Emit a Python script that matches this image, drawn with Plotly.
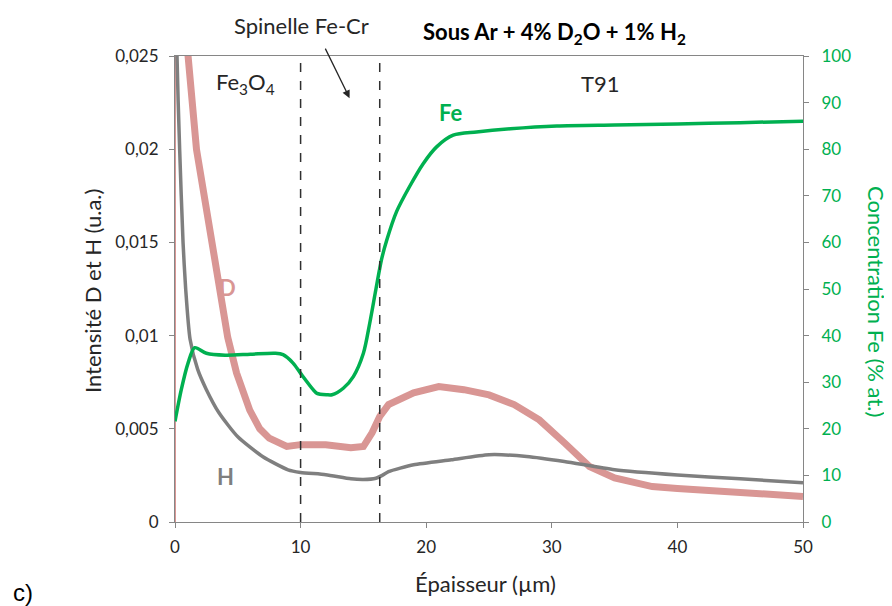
import plotly.graph_objects as go

# ---- data ----
fe_x = [0, 0.5, 1.04, 1.57, 2.5, 4, 6, 8, 8.6, 9.4, 10, 11.0, 11.3, 12.1, 12.5, 13.4, 14.2, 15.0, 15.5,
        16.0, 16.45, 16.85, 17.64, 18.7, 19.76, 20.83, 22.15, 24.0, 26.7, 30.4, 35, 40, 45, 50]
fe_y = [21.6, 28.4, 34.1, 37.4, 36.2, 35.8, 36.0, 36.2, 35.9, 34.1, 31.9, 28.4, 27.6, 27.3, 27.3, 28.7, 31.2, 36.2, 42.6,
        50.0, 56.4, 60.4, 66.6, 72.1, 76.9, 80.5, 83.0, 83.7, 84.4, 85.0, 85.2, 85.4, 85.7, 86.0]

h_x = [0.05, 0.16, 0.37, 0.64, 0.85, 1.2, 1.8, 2.5, 3.5, 5, 7, 9, 10, 12, 14, 15, 16, 16.5, 17, 19, 22, 25, 28,
       31, 35, 40, 45, 50]
h_y = [0.04, 0.025, 0.02, 0.015, 0.0125, 0.0098, 0.0082, 0.0071, 0.00586, 0.00457, 0.0035, 0.0028, 0.00266,
       0.00254, 0.00232, 0.00228, 0.00235, 0.0025, 0.0027, 0.00307, 0.00334, 0.00361, 0.00352,
       0.00325, 0.0028, 0.00252, 0.00232, 0.0021]

d_x = [0, 0, 0.6, 1.04, 1.71, 2.9, 3.5, 4.2, 4.9, 5.95, 6.75, 7.5, 8.9, 10, 12, 14, 15, 15.7, 16.3, 17, 19, 21,
       23, 25, 27, 29, 31, 33, 35, 38, 40, 45, 50]
d_y = [0, 0.04, 0.03, 0.025, 0.02, 0.015, 0.013, 0.0099, 0.008, 0.006, 0.005, 0.0045, 0.00405, 0.00415, 0.00414,
       0.00398, 0.00405, 0.0048, 0.00566, 0.0063, 0.00693, 0.00727, 0.0071, 0.00682, 0.0063, 0.00548,
       0.00425, 0.00298, 0.00237, 0.0019, 0.0018, 0.00157, 0.00137]

boundaries = [10, 16.3]
x_ticks = [0, 10, 20, 30, 40, 50]
left_ticks = [0, 0.005, 0.01, 0.015, 0.02, 0.025]
left_labels = ["0", "0,005", "0,01", "0,015", "0,02", "0,025"]
right_ticks = [0, 10, 20, 30, 40, 50, 60, 70, 80, 90, 100]

GREEN = "#00B050"
PINK = "#D99694"
GRAY = "#7F7F7F"
AXIS = "#868686"
TXT = "#262626"
FONT = "Lato"

# page body has an 8px margin: plot area placed at screen x 175..803, y 56..522
W, H = 884, 598
L, T = 167, 48
PW, PH = 628, 466


def px(x):
    return (x - 175) / PW


def py(y):
    return (522 - y) / PH


fig = go.Figure()
# D: thin jump at the surface, then the thick noisy band
fig.add_trace(go.Scatter(x=d_x[:2], y=d_y[:2], mode="lines", line=dict(color=PINK, width=2),
                         showlegend=False, hoverinfo="skip"))
fig.add_trace(go.Scatter(x=d_x[1:], y=d_y[1:], mode="lines", line=dict(color=PINK, width=7),
                         showlegend=False, hoverinfo="skip"))
fig.add_trace(go.Scatter(x=h_x, y=h_y, mode="lines",
                         line=dict(color=GRAY, width=3.5, shape="spline", smoothing=0.6),
                         showlegend=False))
fig.add_trace(go.Scatter(x=fe_x, y=fe_y, mode="lines",
                         line=dict(color=GREEN, width=3.5, shape="spline", smoothing=0.8),
                         yaxis="y2", showlegend=False))

for b in boundaries:
    fig.add_shape(type="line", xref="x", yref="paper", x0=b, x1=b, y0=0, y1=0.995,
                  line=dict(color="#303030", width=1.5, dash="dash"))

axis_common = dict(showgrid=False, zeroline=False, showline=True, linecolor=AXIS, linewidth=1.2,
                   ticks="outside", ticklen=5, tickcolor=AXIS, automargin=False)

fig.update_layout(
    width=W, height=H,
    margin=dict(l=L, r=W - L - PW, t=T, b=H - T - PH),
    paper_bgcolor="white", plot_bgcolor="white",
    font=dict(family=FONT, size=17, color=TXT),
    xaxis=dict(range=[0, 50], tickvals=x_ticks, mirror=True, ticklabelstandoff=4,
               tickfont=dict(size=17, color=TXT), **axis_common),
    yaxis=dict(range=[0, 0.025], tickvals=left_ticks, ticktext=left_labels, ticklabelstandoff=7,
               tickfont=dict(size=17, color=TXT), **axis_common),
    yaxis2=dict(range=[0, 100], tickvals=right_ticks, overlaying="y", side="right", ticklabelstandoff=9,
                tickfont=dict(size=17, color=GREEN), **axis_common),
)


def note(x, y, text, size, color=TXT, angle=0, family=FONT):
    fig.add_annotation(x=px(x), y=py(y), xref="paper", yref="paper", text=text, showarrow=False,
                       xanchor="center", yanchor="middle", textangle=angle,
                       font=dict(family=family, size=size, color=color))


note(92, 291, "Intensité D et H (u.a.)", 22, angle=-90)
note(877, 301, "Concentration Fe (% at.)", 22, color=GREEN, angle=90)
note(485, 583, "Épaisseur (µm)", 22)
note(301, 25, "Spinelle Fe-Cr", 22)
note(554, 33, "<b>Sous Ar + 4% D<sub>2</sub>O + 1% H<sub>2</sub></b>", 22, color="#000000")
note(23, 592, "c)", 24, color="#000000", family="Liberation Sans")

fig.add_annotation(x=5.6, y=0.02354, text="Fe<sub>3</sub>O<sub>4</sub>", showarrow=False,
                   font=dict(size=22, color=TXT))
fig.add_annotation(x=33.9, y=0.02354, text="T91", showarrow=False, font=dict(size=22, color=TXT))
fig.add_annotation(x=21.9, y=87.9, yref="y2", text="<b>Fe</b>", showarrow=False,
                   font=dict(size=22, color=GREEN))
fig.add_annotation(x=4.2, y=0.0126, text="<b>D</b>", showarrow=False, font=dict(size=22, color=PINK))
fig.add_annotation(x=4.05, y=0.00243, text="<b>H</b>", showarrow=False, font=dict(size=22, color=GRAY))
fig.add_annotation(x=13.9, y=0.02274, ax=-25, ay=-51, text="", showarrow=True, arrowhead=2,
                   arrowsize=1.2, arrowwidth=1.3, arrowcolor=TXT)

fig.write_html("out.html")
